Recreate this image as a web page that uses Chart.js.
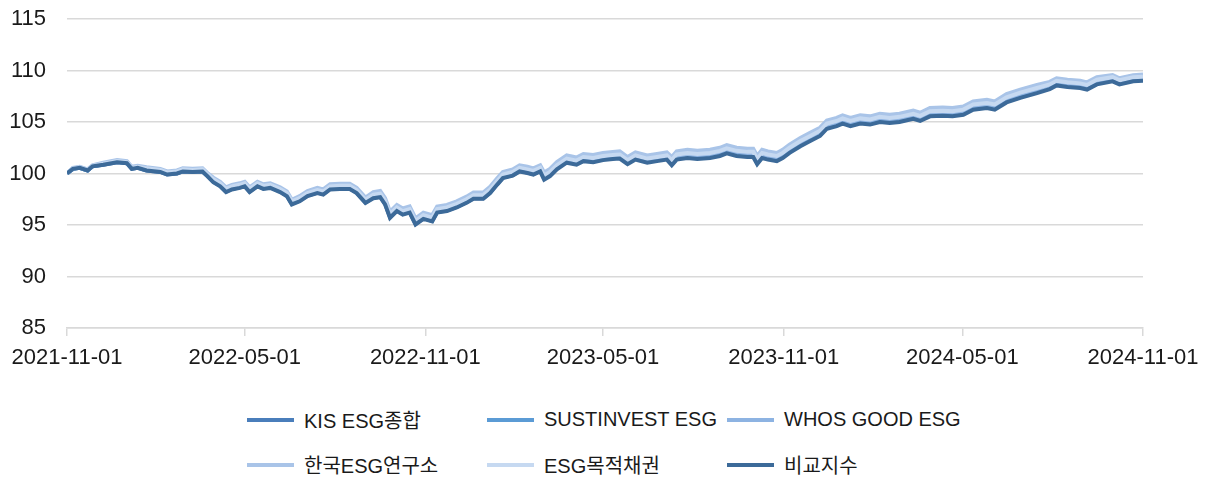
<!DOCTYPE html>
<html lang="ko">
<head>
<meta charset="utf-8">
<title>ESG index comparison</title>
<script src="https://cdn.jsdelivr.net/npm/chart.js@4.4.1/dist/chart.umd.min.js"></script>
<style>
  body { margin: 0; background: #fff; }
  #wrap { width: 1209px; height: 479px; position: relative; }
  #chartBox { width: 1209px; height: 390px; position: relative; }
  #legend {
    display: grid;
    grid-template-columns: repeat(3, 240px);
    grid-auto-rows: 45px;
    padding: 7px 0 0 247px;
    font-family: 'Liberation Sans', 'Noto Sans CJK KR', sans-serif;
    font-size: 20px;
    color: #1a1a1a;
  }
  .item { display: flex; align-items: center; white-space: nowrap; }
  .swatch { width: 47px; height: 4px; margin-right: 10px; }
</style>
</head>
<body>
<div id="wrap">
  <div id="chartBox"><canvas id="myChart"></canvas></div>
  <div id="legend"></div>
</div>
<script>
'use strict';

const startDate = '2021-11-01';
const tickDates = ['2021-11-01', '2022-05-01', '2022-11-01', '2023-05-01', '2023-11-01', '2024-05-01', '2024-11-01'];

const seriesNames = ['KIS ESG종합', 'SUSTINVEST ESG', 'WHOS GOOD ESG', '한국ESG연구소', 'ESG목적채권', '비교지수'];
const seriesColors = ['#4a7ebb', '#5b9bd5', '#8db3e2', '#a9c4e8', '#c6d9f1', '#3c6a99'];

// days since startDate
const dayOffsets = [
  0, 6, 13, 21, 26, 37, 51, 61, 66, 72, 81, 95, 102, 112, 118, 128, 138, 143, 149, 156,
  162, 168, 176, 181, 186, 194, 200, 207, 217, 224, 229, 237, 245, 255, 261, 268, 278, 288, 295, 304,
  312, 319, 324, 329, 336, 342, 349, 355, 363, 372, 377, 387, 397, 407, 414, 424, 431, 438, 444, 454,
  461, 469, 475, 482, 486, 492, 499, 509, 519, 526, 536, 546, 556, 563, 571, 579, 591, 601, 611, 616,
  621, 632, 642, 655, 665, 672, 682, 693, 699, 703, 708, 714, 723, 729, 736, 747, 757, 767, 774, 784,
  790, 798, 808, 818, 828, 838, 848, 862, 869, 879, 892, 902, 913, 923, 937, 945, 957, 971, 988, 1001,
  1008, 1019, 1032, 1039, 1049, 1065, 1072, 1086, 1096
];

const kisEsg = [
  100.0, 100.45, 100.55, 100.3, 100.7, 100.85, 101.1, 101.0, 100.45, 100.55, 100.3, 100.15, 99.9, 100.0, 100.2, 100.15, 100.2, 99.75, 99.2, 98.8,
  98.25, 98.5, 98.65, 98.8, 98.25, 98.8, 98.55, 98.65, 98.25, 97.85, 97.05, 97.35, 97.85, 98.15, 98.0, 98.5, 98.55, 98.55, 98.15, 97.2,
  97.65, 97.75, 97.05, 95.75, 96.4, 96.05, 96.25, 95.1, 95.65, 95.4, 96.25, 96.4, 96.75, 97.2, 97.6, 97.6, 98.15, 98.95, 99.6, 99.85,
  100.25, 100.1, 99.95, 100.25, 99.5, 99.85, 100.5, 101.15, 100.95, 101.3, 101.2, 101.4, 101.5, 101.55, 101.0, 101.45, 101.15, 101.3, 101.45, 100.9,
  101.45, 101.6, 101.5, 101.6, 101.8, 102.05, 101.8, 101.7, 101.7, 101.0, 101.6, 101.45, 101.3, 101.6, 102.1, 102.75, 103.25, 103.75, 104.45, 104.7,
  104.95, 104.7, 104.95, 104.85, 105.1, 105.0, 105.1, 105.4, 105.2, 105.65, 105.7, 105.65, 105.8, 106.3, 106.45, 106.3, 107.0, 107.45, 107.9, 108.3,
  108.65, 108.5, 108.4, 108.25, 108.75, 109.05, 108.75, 109.05, 109.1
];

const sustinvestEsg = [
  100.0, 100.45, 100.55, 100.3, 100.7, 100.9, 101.15, 101.05, 100.5, 100.6, 100.35, 100.2, 99.95, 100.05, 100.25, 100.2, 100.25, 99.8, 99.25, 98.85,
  98.3, 98.55, 98.7, 98.85, 98.3, 98.85, 98.6, 98.7, 98.3, 97.9, 97.1, 97.4, 97.9, 98.2, 98.05, 98.55, 98.6, 98.6, 98.2, 97.25,
  97.75, 97.85, 97.15, 95.85, 96.5, 96.15, 96.35, 95.2, 95.75, 95.5, 96.35, 96.5, 96.85, 97.3, 97.7, 97.7, 98.25, 99.05, 99.7, 99.95,
  100.35, 100.2, 100.05, 100.35, 99.6, 99.95, 100.6, 101.25, 101.05, 101.4, 101.3, 101.5, 101.6, 101.65, 101.1, 101.55, 101.25, 101.4, 101.55, 101.0,
  101.55, 101.7, 101.6, 101.7, 101.9, 102.15, 101.9, 101.8, 101.8, 101.1, 101.7, 101.55, 101.4, 101.7, 102.2, 102.85, 103.35, 103.85, 104.55, 104.8,
  105.05, 104.8, 105.05, 104.95, 105.2, 105.1, 105.2, 105.5, 105.3, 105.75, 105.8, 105.75, 105.9, 106.4, 106.55, 106.4, 107.1, 107.55, 108.0, 108.35,
  108.7, 108.55, 108.45, 108.3, 108.8, 109.1, 108.8, 109.1, 109.15
];

const whosGoodEsg = [
  100.0, 100.5, 100.6, 100.35, 100.75, 100.95, 101.2, 101.1, 100.55, 100.65, 100.4, 100.25, 100.0, 100.1, 100.3, 100.25, 100.3, 99.85, 99.35, 98.95,
  98.4, 98.65, 98.8, 98.95, 98.4, 98.95, 98.7, 98.8, 98.4, 98.0, 97.2, 97.5, 98.0, 98.3, 98.15, 98.65, 98.7, 98.7, 98.3, 97.35,
  97.85, 97.95, 97.25, 95.95, 96.6, 96.25, 96.45, 95.3, 95.85, 95.6, 96.45, 96.6, 96.95, 97.4, 97.8, 97.8, 98.35, 99.15, 99.8, 100.05,
  100.45, 100.3, 100.15, 100.45, 99.7, 100.05, 100.7, 101.35, 101.15, 101.5, 101.4, 101.6, 101.7, 101.75, 101.2, 101.65, 101.35, 101.5, 101.65, 101.15,
  101.7, 101.85, 101.75, 101.85, 102.05, 102.3, 102.05, 101.95, 101.95, 101.25, 101.85, 101.7, 101.55, 101.85, 102.35, 103.0, 103.5, 104.0, 104.7, 104.95,
  105.2, 104.95, 105.2, 105.1, 105.35, 105.25, 105.35, 105.65, 105.45, 105.9, 105.95, 105.9, 106.05, 106.55, 106.7, 106.55, 107.25, 107.7, 108.15, 108.5,
  108.85, 108.7, 108.6, 108.45, 108.95, 109.2, 108.9, 109.2, 109.25
];

const koreaEsgInstitute = [
  100.0, 100.55, 100.65, 100.4, 100.8, 101.05, 101.3, 101.2, 100.65, 100.75, 100.6, 100.45, 100.2, 100.3, 100.5, 100.45, 100.5, 100.05, 99.6, 99.2,
  98.65, 98.9, 99.05, 99.2, 98.65, 99.2, 98.95, 99.05, 98.65, 98.25, 97.45, 97.8, 98.3, 98.6, 98.45, 98.95, 99.0, 99.0, 98.6, 97.65,
  98.2, 98.3, 97.6, 96.3, 96.95, 96.6, 96.8, 95.65, 96.2, 95.95, 96.8, 96.95, 97.3, 97.75, 98.15, 98.15, 98.7, 99.5, 100.15, 100.4,
  100.8, 100.65, 100.5, 100.8, 100.1, 100.45, 101.1, 101.75, 101.55, 101.9, 101.8, 102.0, 102.1, 102.15, 101.6, 102.05, 101.75, 101.9, 102.05, 101.6,
  102.15, 102.3, 102.2, 102.3, 102.5, 102.75, 102.5, 102.4, 102.4, 101.7, 102.3, 102.15, 102.0, 102.3, 102.8, 103.45, 103.95, 104.45, 105.15, 105.4,
  105.65, 105.4, 105.65, 105.55, 105.8, 105.7, 105.8, 106.1, 105.9, 106.35, 106.4, 106.35, 106.5, 107.0, 107.15, 107.0, 107.7, 108.15, 108.6, 108.9,
  109.25, 109.1, 109.0, 108.85, 109.35, 109.55, 109.25, 109.55, 109.6
];

const esgPurposeBond = [
  100.0, 100.5, 100.6, 100.35, 100.75, 100.95, 101.2, 101.1, 100.55, 100.65, 100.5, 100.35, 100.1, 100.2, 100.4, 100.35, 100.4, 99.95, 99.45, 99.05,
  98.5, 98.75, 98.9, 99.05, 98.5, 99.05, 98.8, 98.9, 98.5, 98.1, 97.3, 97.6, 98.1, 98.4, 98.25, 98.75, 98.8, 98.8, 98.4, 97.45,
  97.95, 98.05, 97.35, 96.05, 96.7, 96.35, 96.55, 95.4, 95.95, 95.7, 96.55, 96.7, 97.05, 97.5, 97.9, 97.9, 98.45, 99.25, 99.9, 100.15,
  100.55, 100.4, 100.25, 100.55, 99.8, 100.15, 100.8, 101.45, 101.25, 101.6, 101.5, 101.7, 101.8, 101.85, 101.3, 101.75, 101.45, 101.6, 101.75, 101.3,
  101.85, 102.0, 101.9, 102.0, 102.2, 102.45, 102.2, 102.1, 102.1, 101.4, 102.0, 101.85, 101.7, 102.0, 102.5, 103.15, 103.65, 104.15, 104.85, 105.1,
  105.35, 105.1, 105.35, 105.25, 105.5, 105.4, 105.5, 105.8, 105.6, 106.05, 106.1, 106.05, 106.2, 106.7, 106.85, 106.7, 107.4, 107.85, 108.3, 108.65,
  109.0, 108.85, 108.75, 108.6, 109.1, 109.35, 109.05, 109.35, 109.4
];

const benchmark = [
  100.0, 100.45, 100.55, 100.3, 100.7, 100.85, 101.1, 101.0, 100.45, 100.55, 100.3, 100.15, 99.9, 100.0, 100.2, 100.15, 100.2, 99.75, 99.15, 98.75,
  98.2, 98.45, 98.6, 98.75, 98.2, 98.75, 98.5, 98.6, 98.2, 97.8, 97.0, 97.3, 97.8, 98.1, 97.95, 98.45, 98.5, 98.5, 98.1, 97.15,
  97.6, 97.7, 97.0, 95.7, 96.35, 96.0, 96.2, 95.05, 95.6, 95.35, 96.2, 96.35, 96.7, 97.15, 97.55, 97.55, 98.1, 98.9, 99.55, 99.8,
  100.2, 100.05, 99.9, 100.2, 99.4, 99.75, 100.4, 101.05, 100.85, 101.2, 101.1, 101.3, 101.4, 101.45, 100.9, 101.35, 101.05, 101.2, 101.35, 100.8,
  101.35, 101.5, 101.4, 101.5, 101.7, 101.95, 101.7, 101.6, 101.6, 100.9, 101.5, 101.35, 101.2, 101.5, 102.0, 102.65, 103.15, 103.65, 104.35, 104.6,
  104.85, 104.6, 104.85, 104.75, 105.0, 104.9, 105.0, 105.3, 105.1, 105.55, 105.6, 105.55, 105.7, 106.2, 106.35, 106.2, 106.9, 107.35, 107.8, 108.2,
  108.55, 108.4, 108.3, 108.15, 108.65, 108.95, 108.65, 108.95, 109.0
];

const allSeries = [kisEsg, sustinvestEsg, whosGoodEsg, koreaEsgInstitute, esgPurposeBond, benchmark];

const yMin = 85;
const yMax = 115;
const yStep = 5;

const fontFamily = "'Liberation Sans', 'Noto Sans CJK KR', sans-serif";
const gridColor = '#d9d9d9';

function daysFromStart(dateStr) {
  return Math.round((Date.parse(dateStr) - Date.parse(startDate)) / 86400000);
}

const tickDays = tickDates.map(daysFromStart);

function buildDatasets() {
  let datasets = [];
  for (let i = 0; i < allSeries.length; i++) {
    datasets.push({
      label: seriesNames[i],
      data: allSeries[i].map((v, j) => ({ x: dayOffsets[j], y: v })),
      borderColor: seriesColors[i],
      backgroundColor: seriesColors[i],
      borderWidth: 4,
      pointRadius: 0,
      tension: 0,
      // excel draws the last series on top
      order: allSeries.length - 1 - i
    });
  }
  return datasets;
}

function renderLegend() {
  const legend = document.getElementById('legend');
  for (let i = 0; i < seriesNames.length; i++) {
    let item = document.createElement('div');
    item.className = 'item';
    let swatch = document.createElement('span');
    swatch.className = 'swatch';
    swatch.style.background = seriesColors[i];
    let text = document.createElement('span');
    text.textContent = seriesNames[i];
    item.appendChild(swatch);
    item.appendChild(text);
    legend.appendChild(item);
  }
}

function renderChart() {
  const config = {
    type: 'line',
    data: { datasets: buildDatasets() },
    options: {
      responsive: true,
      maintainAspectRatio: false,
      animation: false,
      layout: { padding: { top: 19, right: 66, bottom: 0, left: 0 } },
      plugins: {
        legend: { display: false },
        tooltip: { enabled: false }
      },
      scales: {
        x: {
          type: 'linear',
          min: tickDays[0],
          max: tickDays[tickDays.length - 1],
          afterBuildTicks: (scale) => {
            scale.ticks = tickDays.map(d => ({ value: d }));
          },
          afterFit: (scale) => { scale.height = 62; },
          grid: {
            drawOnChartArea: false,
            drawTicks: true,
            tickLength: 8,
            color: gridColor,
            lineWidth: 1.5
          },
          border: { display: true, color: gridColor, width: 1.5 },
          ticks: {
            autoSkip: false,
            maxRotation: 0,
            padding: 9,
            color: '#1a1a1a',
            font: { family: fontFamily, size: 22 },
            callback: (value) => tickDates[tickDays.indexOf(value)]
          }
        },
        y: {
          min: yMin,
          max: yMax,
          afterFit: (scale) => {
            scale.width = 67;
            scale.paddingTop = 0;
            scale.paddingBottom = 0;
          },
          grid: { color: gridColor, lineWidth: 1.5, drawTicks: false },
          border: { display: false },
          ticks: {
            stepSize: yStep,
            padding: 21,
            color: '#1a1a1a',
            font: { family: fontFamily, size: 22 }
          }
        }
      }
    }
  };
  let canvasChart = document.getElementById('myChart');
  const myChart = new Chart(canvasChart, config);
}

renderChart();
renderLegend();
</script>
</body>
</html>
